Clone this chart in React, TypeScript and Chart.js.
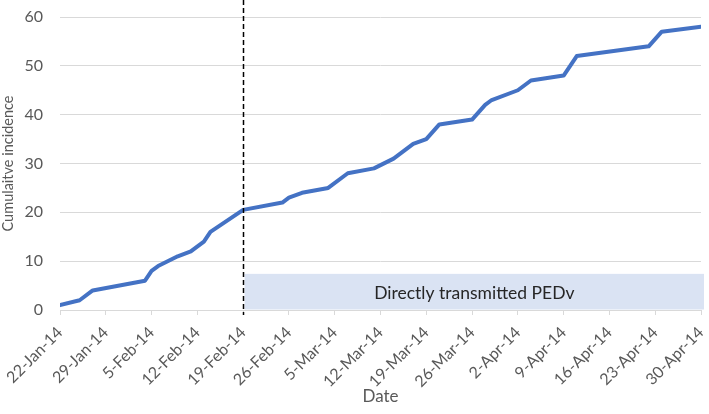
import React, { useEffect, useRef } from "react";
import { Chart, registerables } from "chart.js";

Chart.register(...registerables);

const startDate = "2014-01-22";
const endDate = "2014-04-30";
const tickStepDays = 7;

const pointDates = [
  "2014-01-22", "2014-01-25", "2014-01-27", "2014-02-04", "2014-02-05", "2014-02-06",
  "2014-02-09", "2014-02-11", "2014-02-13", "2014-02-14", "2014-02-19", "2014-02-25",
  "2014-02-26", "2014-02-28", "2014-03-04", "2014-03-07", "2014-03-11", "2014-03-14",
  "2014-03-17", "2014-03-19", "2014-03-21", "2014-03-26", "2014-03-28", "2014-03-29",
  "2014-04-02", "2014-04-04", "2014-04-09", "2014-04-11", "2014-04-22", "2014-04-24",
  "2014-04-30",
];
const cumulativeIncidence = [
  1, 2, 4, 6, 8, 9,
  11, 12, 14, 16, 20.5, 22,
  23, 24, 25, 28, 29, 31,
  34, 35, 38, 39, 42, 43,
  45, 47, 48, 52, 54, 57,
  58,
];

const yTicks = [0, 10, 20, 30, 40, 50, 60];
const markerDate = "2014-02-19";
const boxStartDate = "2014-02-19";
const boxEndDate = "2014-04-30";
const boxTopValue = 7.4;
const boxLabel = "Directly transmitted PEDv";
const xTitle = "Date";
const yTitle = "Cumulaitve incidence";

const MONTHS = ["Jan", "Feb", "Mar", "Apr", "May", "Jun", "Jul", "Aug", "Sep", "Oct", "Nov", "Dec"];
const DAY = 86400000;
const baseMs = Date.parse(startDate + "T00:00:00Z");
const toDay = (s: string) => Math.round((Date.parse(s + "T00:00:00Z") - baseMs) / DAY);
const fmt = (d: number) => {
  const dt = new Date(baseMs + d * DAY);
  return `${dt.getUTCDate()}-${MONTHS[dt.getUTCMonth()]}-${String(dt.getUTCFullYear()).slice(2)}`;
};

const FONT = "Lato, 'Open Sans', sans-serif";
const GREY = "#595959";

const annotationPlugin = {
  id: "pedvAnnotations",
  beforeDatasetsDraw(chart: any) {
    const { ctx, chartArea, scales } = chart;
    const x = scales.x;
    const y = scales.y;
    const left = x.getPixelForValue(toDay(boxStartDate)) + 1.5;
    const right = x.getPixelForValue(toDay(boxEndDate)) + 3;
    const top = y.getPixelForValue(boxTopValue);
    const bottom = chartArea.bottom - 0.5;
    ctx.save();
    ctx.fillStyle = "#dae3f3";
    ctx.fillRect(left, top, right - left, bottom - top);
    ctx.fillStyle = "#262626";
    ctx.font = `17.5px ${FONT}`;
    ctx.textAlign = "center";
    ctx.textBaseline = "middle";
    ctx.fillText(boxLabel, (left + right) / 2, (top + bottom) / 2 + 1.5);
    ctx.restore();
  },
  afterDatasetsDraw(chart: any) {
    const { ctx, chartArea, scales } = chart;
    const xp = Math.round(scales.x.getPixelForValue(toDay(markerDate))) + 0.5;
    ctx.save();
    ctx.strokeStyle = "#000000";
    ctx.lineWidth = 1.5;
    ctx.setLineDash([5, 3]);
    ctx.beginPath();
    ctx.moveTo(xp, 0);
    ctx.lineTo(xp, chartArea.bottom + 5);
    ctx.stroke();
    ctx.restore();
  },
};

export default function App() {
  const ref = useRef<HTMLCanvasElement>(null);
  useEffect(() => {
    document.body.style.margin = "0";
    const data = pointDates.map((d, i) => ({ x: toDay(d), y: cumulativeIncidence[i] }));
    const chart = new Chart(ref.current!, {
      type: "line",
      data: {
        datasets: [
          {
            data,
            borderColor: "#4472C4",
            borderWidth: 4,
            pointRadius: 0,
            tension: 0,
            borderJoinStyle: "round",
            borderCapStyle: "round",
            fill: false,
          },
        ],
      },
      options: {
        animation: false,
        responsive: false,
        maintainAspectRatio: false,
        layout: { padding: { top: 17, right: 8, left: 0, bottom: 0 } },
        plugins: { legend: { display: false }, tooltip: { enabled: false } },
        scales: {
          x: {
            type: "linear",
            min: 0,
            max: toDay(endDate),
            afterFit: (s: any) => {
              s.height = 104;
              s.paddingLeft = 0;
              s.paddingRight = 0;
            },
            afterBuildTicks: (s: any) => {
              const out = [];
              for (let d = 0; d <= toDay(endDate); d += tickStepDays) out.push({ value: d });
              s.ticks = out;
            },
            ticks: {
              autoSkip: false,
              minRotation: 45,
              maxRotation: 45,
              padding: 8,
              color: GREY,
              font: { family: FONT, size: 16 },
              callback: (v: any) => fmt(Number(v)),
            },
            grid: { drawOnChartArea: false, color: "#d9d9d9", tickLength: 5 },
            border: { color: "#d9d9d9" },
            title: {
              display: true,
              text: xTitle,
              color: GREY,
              font: { family: FONT, size: 17, lineHeight: 1 },
              padding: { top: 0, bottom: 9 },
            },
          },
          y: {
            min: 0,
            max: 60,
            afterFit: (s: any) => {
              s.width = 60;
              s.paddingTop = 0;
              s.paddingBottom = 0;
            },
            afterBuildTicks: (s: any) => {
              s.ticks = yTicks.map((v) => ({ value: v }));
            },
            ticks: {
              padding: 17,
              color: GREY,
              font: { family: FONT, size: 16 },
            },
            grid: { color: "#d9d9d9", drawTicks: false },
            border: { display: false },
            title: {
              display: true,
              text: yTitle,
              color: GREY,
              font: { family: FONT, size: 14.5, lineHeight: 1.2 },
              padding: 0,
            },
          },
        },
      },
      plugins: [annotationPlugin],
    } as any);
    return () => chart.destroy();
  }, []);
  return (
    <div style={{ width: 709, height: 414 }}>
      <canvas ref={ref} width={709} height={414} style={{ display: "block" }} />
    </div>
  );
}
